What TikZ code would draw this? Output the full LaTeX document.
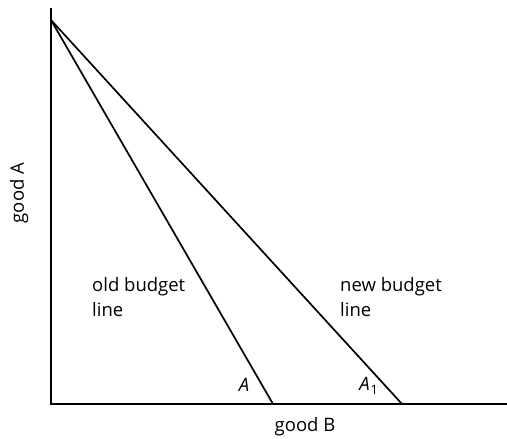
\documentclass[tikz,border=0pt]{standalone}
\usepackage{fontspec}
\setmainfont{Open Sans}
\usetikzlibrary{positioning}

\begin{document}
\begin{tikzpicture}[
    x=1pt, y=-1pt,
    every node/.style={font=\fontsize{18.5}{25}\selectfont, inner sep=0pt},
    axis/.style={line width=2pt},
    budget/.style={line width=1.7pt},
    lbl/.style={align=left, anchor=north west},
]
\useasboundingbox (0,0) rectangle (507,439);

% Axes
\coordinate (top) at (51,8);
\coordinate (origin) at (51,404);
\coordinate (right) at (507,404);
\coordinate (apex) at (51,20);
\draw[axis] (top) -- (origin) -- (right);

% Budget lines
\coordinate (oldend) at (273,404);
\coordinate (newend) at (402,404);
\draw[budget] (apex) -- (oldend);
\draw[budget] (apex) -- (newend);

% Labels
\node[lbl] (oldlbl) at (92,277) {old budget\\line};
\node[lbl] (newlbl) at (340,277) {new budget\\line};
\node (angA) at (244,385) {\itshape A};
\node (angA1) at (369,386) {\itshape A\kern1pt\textsubscript{\upshape 1}};
\node (goodB) at (305,427) {good B};
\node[rotate=90] (goodA) at (19,193) {good A};
\end{tikzpicture}
\end{document}
